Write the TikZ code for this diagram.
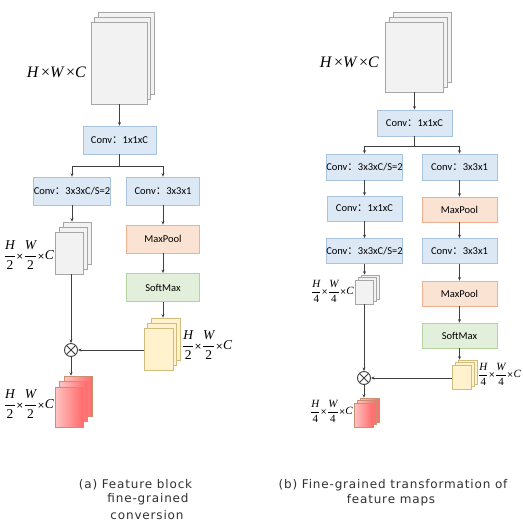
\documentclass[tikz,border=0pt]{standalone}
\usepackage{fontspec}
\setmainfont[LetterSpace=7]{DejaVu Sans}
\newfontfamily\boxfont{Carlito}
\newfontfamily\tms{Liberation Serif}
\newfontfamily\cjk{Noto Sans CJK SC}
\usetikzlibrary{arrows.meta}

\definecolor{lineg}{HTML}{404040}
\definecolor{blueline}{HTML}{A9C4E0}
\definecolor{bluefill}{HTML}{DCE9F5}
\definecolor{orangeline}{HTML}{F0B090}
\definecolor{orangefill}{HTML}{FBE3D3}
\definecolor{greenline}{HTML}{B5D3A0}
\definecolor{greenfill}{HTML}{E2EFDA}
\definecolor{grayline}{HTML}{A6A6A6}
\definecolor{grayfill}{HTML}{F2F2F2}
\definecolor{yellowline}{HTML}{D2BC7C}
\definecolor{yellowfill}{HTML}{FFF2CC}
\definecolor{redline}{HTML}{C89070}
\definecolor{redleft}{HTML}{FFC4C4}
\definecolor{redright}{HTML}{FF6A6A}
\definecolor{captext}{HTML}{303030}

\newcommand{\iv}[1]{\mbox{\tms\itshape #1}}
\newcommand{\uv}[1]{\mbox{\tms #1}}
\newcommand{\cv}{Conv{\cjk ：}}
\newcommand{\fracdim}[2]{$\displaystyle\frac{\iv{H}}{\uv{#1}}\mbox{#2×}\frac{\iv{W}}{\uv{#1}}\mbox{#2×}\iv{C}$}
% three sheets: name, centre, width, height, dx, dy, style
\newcommand{\sheets}[7]{%
  \node[sheet, #7, minimum width=#3, minimum height=#4, xshift=2*#5pt, yshift=2*#6pt] (#1-c) at (#2) {};
  \node[sheet, #7, minimum width=#3, minimum height=#4, xshift=#5pt, yshift=#6pt] (#1-b) at (#2) {};
  \node[sheet, #7, minimum width=#3, minimum height=#4] (#1) at (#2) {};
}

\tikzset{
  convbox/.style={draw=blueline, fill=bluefill, line width=0.8pt, minimum width=73pt, minimum height=28pt, inner sep=0pt, font=\boxfont\fontsize{10.5}{11}\selectfont},
  poolbox/.style={convbox, draw=orangeline, fill=orangefill},
  softbox/.style={convbox, draw=greenline, fill=greenfill},
  sheet/.style={inner sep=0pt, line width=0.6pt},
  graysheet/.style={draw=grayline, fill=grayfill},
  yellowsheet/.style={draw=yellowline, fill=yellowfill},
  redsheet/.style={draw=redline, left color=redleft, right color=redright},
  link/.style={draw=lineg, line width=0.8pt, -{Stealth[length=3.5pt,width=3pt]}},
  mult/.style={circle, draw=lineg, line width=0.9pt, fill=white, minimum size=13pt, inner sep=0pt,
    path picture={\draw[lineg, line width=0.9pt] (path picture bounding box.north west) -- (path picture bounding box.south east)
      (path picture bounding box.north east) -- (path picture bounding box.south west);}},
  dimlabel/.style={inner sep=0pt, font=\fontsize{16}{18}\selectfont},
  fraclabel/.style={inner sep=0pt, font=\fontsize{13.5}{15}\selectfont},
  smallfrac/.style={inner sep=0pt, font=\fontsize{11}{12}\selectfont},
  caption/.style={inner sep=0pt, anchor=base, text=captext, font=\fontsize{12}{14}\selectfont}
}

\begin{document}
\begin{tikzpicture}[x=1pt, y=-1pt]
\useasboundingbox (0,0) rectangle (523,523);

% (a) feature block fine-grained conversion
\sheets{inA}{119,63}{56pt}{82pt}{3.5}{5}{graysheet}
\node[dimlabel, anchor=east] (lblA0) at (86,72) {\iv{H}\,\uv{×}\iv{W}\,\uv{×}\iv{C}};
\node[convbox] (convA1) at (119.5,140) {\cv 1x1xC};
\node[convbox] (convA2) at (72,191) {\cv 3x3xC/S=2};
\node[convbox] (convA3) at (163,191) {\cv 3x3x1};
\node[poolbox] (poolA) at (163,239) {MaxPool};
\node[softbox] (softA) at (163,287.5) {SoftMax};
\sheets{halfA}{69,253}{28pt}{42pt}{4}{5}{graysheet}
\node[fraclabel, anchor=east] (lblA1) at (54,255) {\fracdim{2}{\small}};
\sheets{attA}{158.5,349}{29pt}{42pt}{3.5}{5}{yellowsheet}
\node[fraclabel, anchor=west] (lblA2) at (182,345) {\fracdim{2}{\small}};
\node[mult] (mulA) at (71,350) {};
\sheets{outA}{69,407}{28pt}{40pt}{4.5}{5.5}{redsheet}
\node[fraclabel, anchor=east] (lblA3) at (54,404) {\fracdim{2}{\small}};

\draw[link] (inA.south -| convA1.north) -- (convA1.north);
\draw[link] (convA1.south) -- ++(0,12) -| (convA2.north);
\draw[link] (convA1.south) -- ++(0,12) -| (convA3.north);
\draw[link] (convA2.south) -- (convA2.south |- halfA-c.north);
\draw[link] (convA3.south) -- (poolA.north);
\draw[link] (poolA.south) -- (softA.north);
\draw[link] (softA.south) -- (softA.south |- attA-c.north);
\draw[link] (mulA.north |- halfA.south) -- (mulA.north);
\draw[link] (attA.west |- mulA.east) -- (mulA.east);
\draw[link] (mulA.south) -- (mulA.south |- outA-c.north);

% (b) fine-grained transformation of feature maps
\sheets{inB}{414,57}{58pt}{70pt}{4}{5}{graysheet}
\node[dimlabel, anchor=east] (lblB0) at (379,62) {\iv{H}\,\uv{×}\iv{W}\,\uv{×}\iv{C}};
\node[convbox, minimum width=75pt, minimum height=26pt] (convB1) at (414.5,123) {\cv 1x1xC};
\node[convbox, minimum width=75pt, minimum height=26pt] (convB2) at (364.5,167) {\cv 3x3xC/S=2};
\node[convbox, minimum width=75pt, minimum height=26pt] (convB3) at (459.5,167) {\cv 3x3x1};
\node[convbox, minimum width=75pt, minimum height=25pt] (convB4) at (364.5,208.5) {\cv 1x1xC};
\node[poolbox, minimum width=75pt, minimum height=25pt] (poolB1) at (459.5,209.5) {MaxPool};
\node[convbox, minimum width=75pt, minimum height=25pt] (convB5) at (364.5,251) {\cv 3x3xC/S=2};
\node[convbox, minimum width=75pt, minimum height=25pt] (convB6) at (459.5,251) {\cv 3x3x1};
\node[poolbox, minimum width=75pt, minimum height=25pt] (poolB2) at (459.5,293.5) {MaxPool};
\node[softbox, minimum width=75pt, minimum height=25pt] (softB) at (459.5,335.5) {SoftMax};
\sheets{quartB}{364,292}{18pt}{24pt}{3}{2.5}{graysheet}
\node[smallfrac, anchor=east] (lblB1) at (354,291) {\fracdim{4}{\footnotesize}};
\sheets{attB}{461.5,377}{19pt}{24pt}{3}{2.5}{yellowsheet}
\node[smallfrac, anchor=west] (lblB2) at (478,374) {\fracdim{4}{\footnotesize}};
\node[mult] (mulB) at (364,378) {};
\sheets{outB}{363.5,415}{19pt}{24pt}{3}{2.5}{redsheet}
\node[smallfrac, anchor=east] (lblB3) at (353,411) {\fracdim{4}{\footnotesize}};

\draw[link] (inB.south -| convB1.north) -- (convB1.north);
\draw[link] (convB1.south) -- ++(0,10) -| (convB2.north);
\draw[link] (convB1.south) -- ++(0,10) -| (convB3.north);
\draw[link] (convB2.south) -- (convB4.north);
\draw[link] (convB4.south) -- (convB5.north);
\draw[link] (convB5.south) -- (convB5.south |- quartB-c.north);
\draw[link] (convB3.south) -- (poolB1.north);
\draw[link] (poolB1.south) -- (convB6.north);
\draw[link] (convB6.south) -- (poolB2.north);
\draw[link] (poolB2.south) -- (softB.north);
\draw[link] (softB.south) -- (softB.south |- attB-c.north);
\draw[link] (mulB.north |- quartB.south) -- (mulB.north);
\draw[link] (attB.west |- mulB.east) -- (mulB.east);
\draw[link] (mulB.south) -- (mulB.south |- outB-c.north);

% captions
\node[caption] (capA1) at (135.5,488) {(a) Feature block};
\node[caption] (capA2) at (148,502.5) {fine-grained};
\node[caption] (capA3) at (147,519) {conversion};
\node[caption] (capB1) at (393,488) {(b) Fine-grained transformation of};
\node[caption] (capB2) at (391,503) {feature maps};
\end{tikzpicture}
\end{document}
